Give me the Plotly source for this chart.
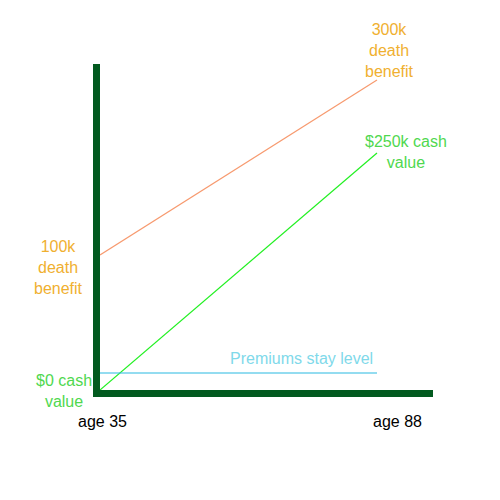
import plotly.graph_objects as go

ages = [35, 88]
death_benefit = [135, 310]      # schematic units
cash_value = [0, 237]
premiums = [17, 17]

age_labels = ["age 35", "age 88"]

OFF = 8                          # page body margin
W = H = 500 - 2 * OFF
L, T, R, B = 100 - OFF, 64 - OFF, 433 - OFF, 390 - OFF   # plot area in figure pixels
x_per_px = (88 - 35) / (377 - 100)
xr = [35, 35 + (R - L) * x_per_px]
yr = [0, B - T]

def px2p(px):
    return (px - OFF - L) / (R - L)

def py2p(py):
    return (B - (py - OFF)) / (B - T)

fig = go.Figure()
fig.add_trace(go.Scatter(x=ages, y=death_benefit, mode="lines",
                         line=dict(color="#f79a6f", width=1.2), hoverinfo="skip"))
fig.add_trace(go.Scatter(x=ages, y=cash_value, mode="lines",
                         line=dict(color="#22f022", width=1.2), hoverinfo="skip"))
fig.add_trace(go.Scatter(x=ages, y=premiums, mode="lines",
                         line=dict(color="#29b9e2", width=1.2), hoverinfo="skip"))

font = "Liberation Sans, Arial, sans-serif"
ann = []
def add(text, px, py, color):
    ann.append(dict(text=text, x=px2p(px), y=py2p(py), xref="paper", yref="paper",
                    showarrow=False, xanchor="center", yanchor="middle",
                    font=dict(family=font, size=16, color=color)))

orange = "#f0b030"
green = "#4fd84f"
blue = "#80d9ea"
add("300k<br>death<br>benefit", 389, 50, orange)
add("$250k cash<br>value", 406, 152, green)
add("100k<br>death<br>benefit", 58, 267, orange)
add("$0 cash<br>value", 64, 391, green)
add("Premiums stay level", 301, 358, blue)
add(age_labels[0], 102, 421, "#000000")
add(age_labels[1], 397, 421, "#000000")

fig.update_layout(
    width=W, height=H,
    margin=dict(l=L, r=W - R, t=T, b=H - B, pad=0, autoexpand=False),
    paper_bgcolor="white", plot_bgcolor="white",
    showlegend=False,
    annotations=ann,
    xaxis=dict(range=xr, showgrid=False, zeroline=False, showticklabels=False,
               ticks="", showline=True, linewidth=7, linecolor="#025a1f", fixedrange=True),
    yaxis=dict(range=yr, showgrid=False, zeroline=False, showticklabels=False,
               ticks="", showline=True, linewidth=7, linecolor="#025a1f", fixedrange=True),
)
fig.write_html("out.html", config={"displayModeBar": False})
